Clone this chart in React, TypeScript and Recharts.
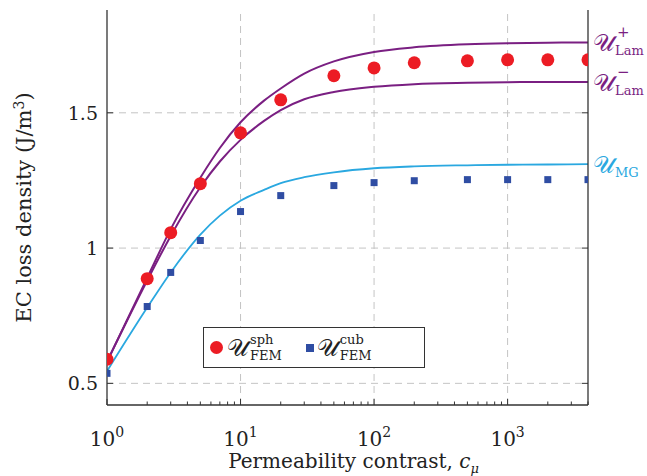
import React from "react";
import {
  ComposedChart,
  Line,
  Scatter,
  XAxis,
  YAxis,
  ReferenceLine,
} from "recharts";

// FEM results at the computed contrasts
const cFem = [1, 2, 3, 5, 10, 20, 50, 100, 200, 500, 1000, 2000, 4000];
const femSph = [0.589, 0.887, 1.057, 1.238, 1.426, 1.548, 1.637, 1.666, 1.685, 1.692, 1.696, 1.696, 1.696];
const femCub = [0.537, 0.784, 0.91, 1.028, 1.135, 1.194, 1.231, 1.242, 1.249, 1.253, 1.253, 1.253, 1.253];

// analytic curves
const cCurve = [1, 2, 3, 5, 7, 10, 15, 20, 30, 50, 100, 200, 500, 1000, 2000, 4000];
const lamPlus = [0.58, 0.89, 1.07, 1.26, 1.37, 1.465, 1.545, 1.59, 1.645, 1.69, 1.725, 1.742, 1.753, 1.757, 1.759, 1.76];
const lamMinus = [0.58, 0.88, 1.045, 1.225, 1.32, 1.4, 1.47, 1.51, 1.55, 1.577, 1.596, 1.606, 1.611, 1.613, 1.614, 1.614];
const mg = [0.545, 0.78, 0.91, 1.05, 1.12, 1.175, 1.215, 1.24, 1.262, 1.28, 1.295, 1.302, 1.306, 1.308, 1.309, 1.31];

const majorX = [1, 10, 100, 1000];
const minorX = [2, 3, 4, 5, 6, 7, 8, 9, 20, 30, 40, 50, 60, 70, 80, 90, 200, 300, 400, 500, 600, 700, 800, 900, 2000, 3000, 4000];
const yTicks = [0.5, 1, 1.5];

const PURPLE = "#7a1f82";
const CYAN = "#2aa8e0";
const RED = "#ec1c24";
const BLUE = "#2f4da3";
const AXIS = "#333";
const FONT = "'DejaVu Serif', 'Liberation Serif', serif";
const SCRIPT = "𝒰";

const sphData = cFem.map((c, i) => ({ c, v: femSph[i] }));
const cubData = cFem.map((c, i) => ({ c, v: femCub[i] }));
const lamPlusData = cCurve.map((c, i) => ({ c, v: lamPlus[i] }));
const lamMinusData = cCurve.map((c, i) => ({ c, v: lamMinus[i] }));
const mgData = cCurve.map((c, i) => ({ c, v: mg[i] }));

const allX = [...majorX, ...minorX].sort((a, b) => a - b);

function BottomTick(props: any) {
  const { x, y, payload } = props;
  const major = majorX.includes(payload.value);
  return (
    <g>
      <line x1={x} x2={x} y1={y} y2={y - (major ? 6 : 3.5)} stroke={AXIS} />
      {major && (
        <text x={x} y={y + 41} textAnchor="middle" fontSize={20} fill="#222" fontFamily={FONT}>
          10
          <tspan dy={-9} fontSize={14}>
            {Math.round(Math.log10(payload.value))}
          </tspan>
        </text>
      )}
    </g>
  );
}

function TopTick(props: any) {
  const { x, y, payload } = props;
  const major = majorX.includes(payload.value);
  return <line x1={x} x2={x} y1={y} y2={y + (major ? 6 : 3.5)} stroke={AXIS} />;
}

function LeftTick(props: any) {
  const { x, y, payload } = props;
  return (
    <g>
      <line x1={x} x2={x + 6} y1={y} y2={y} stroke={AXIS} />
      <text x={x - 9} y={y + 7} textAnchor="end" fontSize={19} fill="#222" fontFamily={FONT}>
        {payload.value}
      </text>
    </g>
  );
}

function RightTick(props: any) {
  const { x, y } = props;
  return <line x1={x} x2={x - 6} y1={y} y2={y} stroke={AXIS} />;
}

function XLabel(props: any) {
  const { viewBox } = props;
  const cx = viewBox.x + viewBox.width / 2;
  return (
    <text x={cx + 6} y={viewBox.y + 63} textAnchor="middle" fontSize={20} fill="#222" fontFamily={FONT}>
      Permeability contrast,{" "}
      <tspan fontStyle="italic">c</tspan>
      <tspan dy={5} fontSize={13} fontStyle="italic">μ</tspan>
    </text>
  );
}

function YLabel(props: any) {
  const { viewBox } = props;
  const cy = viewBox.y + viewBox.height / 2;
  return (
    <text
      x={31}
      y={cy}
      transform={`rotate(-90 31 ${cy})`}
      textAnchor="middle"
      fontSize={21}
      fill="#222"
      fontFamily={FONT}
    >
      EC loss density (J/m<tspan dy={-7} fontSize={14}>3</tspan>
      <tspan dy={7}>)</tspan>
    </text>
  );
}

function endLabel(sup: string, sub: string, color: string, lastIndex: number) {
  return (p: any) => {
    if (p.index !== lastIndex) return null;
    const x = p.x + 5;
    const y = p.y;
    return (
      <g key="end" fill={color} fontFamily={FONT}>
        <text x={x} y={y + 9} fontSize={24}>{SCRIPT}</text>
        {sup && <text x={x + 24} y={y - 5} fontSize={15}>{sup}</text>}
        <text x={x + 22} y={y + 13} fontSize={13}>{sub}</text>
      </g>
    );
  };
}

function Dot(props: any) {
  return <circle cx={props.cx} cy={props.cy} r={6.5} fill={RED} />;
}

function Square(props: any) {
  return <rect x={props.cx - 3.5} y={props.cy - 3.5} width={7} height={7} fill={BLUE} />;
}

function SupSub({ sup, sub }: { sup: string; sub: string }) {
  return (
    <span style={{ display: "inline-flex", alignItems: "center", fontFamily: FONT }}>
      <span style={{ fontSize: 24, lineHeight: "28px" }}>{SCRIPT}</span>
      <span style={{ display: "inline-flex", flexDirection: "column", fontSize: 13, lineHeight: "16px", marginLeft: 1 }}>
        <span>{sup}</span>
        <span>{sub}</span>
      </span>
    </span>
  );
}

function LegendBox() {
  return (
    <div
      style={{
        position: "absolute",
        left: 203,
        top: 327,
        width: 222,
        height: 41,
        border: `1.5px solid ${AXIS}`,
        background: "#fff",
        boxSizing: "border-box",
        display: "flex",
        alignItems: "center",
        paddingLeft: 6,
        color: "#222",
      }}
    >
      <span style={{ width: 13, height: 13, borderRadius: 7, background: RED, marginRight: 4 }} />
      <SupSub sup="sph" sub="FEM" />
      <span style={{ width: 8, height: 8, background: BLUE, marginLeft: 24, marginRight: 3 }} />
      <SupSub sup="cub" sub="FEM" />
    </div>
  );
}

export default function App() {
  return (
    <div style={{ position: "absolute", left: 0, top: 0, width: 647, height: 476, background: "#fff" }}>
      <ComposedChart width={647} height={476} margin={{ top: 10, right: 0, bottom: 0, left: 0 }}>
        <XAxis
          dataKey="c"
          type="number"
          scale="log"
          domain={[1, 4000]}
          ticks={allX}
          interval={0}
          allowDataOverflow
          height={71}
          tickSize={0}
          tickMargin={0}
          tick={<BottomTick />}
          axisLine={{ stroke: AXIS, strokeWidth: 1.3 }}
          label={<XLabel />}
        />
        <XAxis
          xAxisId="top"
          orientation="top"
          type="number"
          scale="log"
          domain={[1, 4000]}
          ticks={allX}
          interval={0}
          allowDataOverflow
          height={0}
          tickSize={0}
          tickMargin={0}
          tick={<TopTick />}
          axisLine={{ stroke: AXIS, strokeWidth: 1.3 }}
        />
        <YAxis
          type="number"
          domain={[0.42, 1.88]}
          ticks={yTicks}
          allowDataOverflow
          width={107}
          tickSize={0}
          tickMargin={0}
          tick={<LeftTick />}
          axisLine={{ stroke: AXIS, strokeWidth: 1.3 }}
          label={<YLabel />}
        />
        <YAxis
          yAxisId="right"
          orientation="right"
          type="number"
          domain={[0.42, 1.88]}
          ticks={yTicks}
          allowDataOverflow
          width={59}
          tickSize={0}
          tickMargin={0}
          tick={<RightTick />}
          axisLine={{ stroke: AXIS, strokeWidth: 1.3 }}
        />
        {majorX.slice(1).map((v) => (
          <ReferenceLine key={"x" + v} x={v} stroke="#c4c4c4" strokeDasharray="7 5" />
        ))}
        {yTicks.map((v) => (
          <ReferenceLine key={"y" + v} y={v} stroke="#c4c4c4" strokeDasharray="7 5" />
        ))}
        <Line
          data={mgData}
          dataKey="v"
          type="monotone"
          stroke={CYAN}
          strokeWidth={1.8}
          dot={false}
          isAnimationActive={false}
          label={endLabel("", "MG", CYAN, mgData.length - 1)}
        />
        <Line
          data={lamMinusData}
          dataKey="v"
          type="monotone"
          stroke={PURPLE}
          strokeWidth={2}
          dot={false}
          isAnimationActive={false}
          label={endLabel("−", "Lam", PURPLE, lamMinusData.length - 1)}
        />
        <Line
          data={lamPlusData}
          dataKey="v"
          type="monotone"
          stroke={PURPLE}
          strokeWidth={2}
          dot={false}
          isAnimationActive={false}
          label={endLabel("+", "Lam", PURPLE, lamPlusData.length - 1)}
        />
        <Scatter data={cubData} dataKey="v" shape={<Square />} isAnimationActive={false} />
        <Scatter data={sphData} dataKey="v" shape={<Dot />} isAnimationActive={false} />
      </ComposedChart>
      <LegendBox />
    </div>
  );
}
